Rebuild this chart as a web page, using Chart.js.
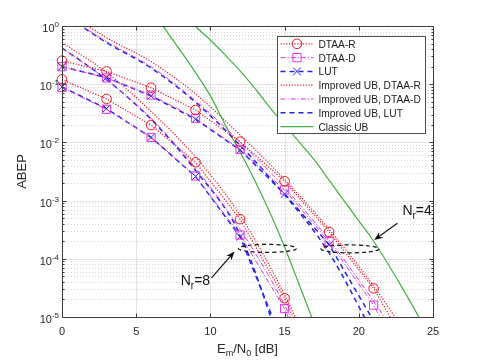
<!DOCTYPE html>
<html>
<head>
<meta charset="utf-8">
<script src="https://cdn.jsdelivr.net/npm/chart.js@4.4.1/dist/chart.umd.min.js"></script>
<style>
    html, body { margin: 0; padding: 0; background: #fff; }
</style>
</head>
<body>
<canvas id="ber" width="480" height="360"></canvas>
<script>
// SNR grids [dB]
const snrSim = [0, 3, 6, 9, 12, 15, 18, 21, 24];
const snrBound = [0, 3, 6, 9, 12, 15, 18, 21, 24];
const snrClassic8 = [6, 7, 8, 9, 10, 11, 12, 13, 14, 15, 16, 17];
const snrClassic4 = [8, 9, 10, 11, 12, 13, 14, 15, 16, 17, 18, 19, 20, 21, 22, 23, 24, 25];

// Nr = 4, simulation
const simR4 = [0.253, 0.166, 0.087, 0.036, 0.0103, 2.15e-3, 2.9e-4, 3.1e-5, 1.5e-6];
const simD4 = [0.2, 0.128, 0.065, 0.026, 7.6e-3, 1.52e-3, 1.97e-4, 1.6e-5, 6e-7];
const simL4 = [0.2, 0.13, 0.063, 0.025, 7.4e-3, 1.3e-3, 1.75e-4, 8.5e-6, 3e-7];
// Nr = 4, improved union bound
const ubR4 = [2.0, 0.63, 0.245, 0.068, 0.0135, 2.3e-3, 3.2e-4, 3.4e-5, 2.5e-6];
const ubD4 = [1.66, 0.54, 0.2, 0.052, 0.0102, 1.66e-3, 2.1e-4, 1.86e-5, 1.3e-6];
const ubL4 = [1.66, 0.52, 0.19, 0.049, 8.9e-3, 1.26e-3, 1.26e-4, 5e-6];

// Nr = 8, simulation
const simR8 = [0.121, 0.0557, 0.0199, 4.55e-3, 4.8e-4, 2.1e-5, 4e-7];
const simD8 = [0.088, 0.037, 0.0122, 2.65e-3, 2.56e-4, 1.4e-5, 2e-7];
const simL8 = [0.09, 0.038, 0.0122, 2.6e-3, 2.4e-4, 3e-6];
// Nr = 8, improved union bound
const ubR8 = [0.52, 0.16, 0.034, 5.6e-3, 5.6e-4, 2.4e-5, 5e-7];
const ubD8 = [0.42, 0.12, 0.026, 3.6e-3, 3.2e-4, 1.6e-5, 3e-7];
const ubL8 = [0.42, 0.12, 0.025, 3.3e-3, 2.6e-4, 2e-6];

// classic union bound
const classic8 = [1.9, 0.85, 0.37, 0.158, 0.063, 0.02, 6.8e-3, 2.2e-3, 6.3e-4, 1.6e-4, 3.5e-5, 7.6e-6];
const classic4 = [1.78, 0.98, 0.575, 0.316, 0.17, 0.085, 0.04, 0.02, 0.01, 5e-3, 2.24e-3, 1e-3, 4.5e-4, 2e-4, 7.9e-5, 2.95e-5, 1.05e-5, 3.5e-6];

// axes
const xTicks = [0, 5, 10, 15, 20, 25];
const yExponents = [-5, -4, -3, -2, -1, 0];

const legendLabels = ['DTAA-R', 'DTAA-D', 'LUT', 'Improved UB, DTAA-R', 'Improved UB, DTAA-D', 'Improved UB, LUT', 'Classic UB'];

const FONT = '"Liberation Sans", Arial, Helvetica, sans-serif';
const RED = '#f01525';
const MAG = '#e236ea';
const BLUE = '#2424e6';
const GREEN = '#45b045';

const DOT = [1.2, 1.6];
const DASHDOT = [5, 2, 1.2, 2];
const DASH = [5, 4];

function pts(xs, ys) {
    return ys.map((v, i) => ({ x: xs[i], y: v }));
}

function simSet(data, color, dash, width, pointStyle, radius) {
    return {
        data, borderColor: color, borderWidth: width, borderDash: dash, tension: 0,
        pointStyle, pointRadius: radius, pointHoverRadius: radius, pointBorderWidth: 1,
        pointBorderColor: color, pointBackgroundColor: 'rgba(0,0,0,0)',
        clip: { left: 10, top: 0, right: 0, bottom: 0 },
    };
}

function boundSet(data, color, dash, width) {
    return {
        data, borderColor: color, borderWidth: width, borderDash: dash,
        pointRadius: 0, pointHoverRadius: 0, cubicInterpolationMode: 'monotone',
        capBezierPoints: false, clip: 0,
    };
}

const datasets = [
    simSet(pts(snrSim, simR4), RED, DOT, 1.2, 'circle', 4.8),
    simSet(pts(snrSim, simD4), MAG, DASHDOT, 1, 'rect', 5.8),
    simSet(pts(snrSim, simL4), BLUE, DASH, 1.5, 'crossRot', 5.5),
    boundSet(pts(snrBound, ubR4), RED, DOT, 1.2),
    boundSet(pts(snrBound, ubD4), MAG, DASHDOT, 1),
    boundSet(pts(snrBound, ubL4), BLUE, DASH, 1.5),
    boundSet(pts(snrClassic4, classic4), GREEN, [], 1.2),
    simSet(pts(snrSim, simR8), RED, DOT, 1.2, 'circle', 4.8),
    simSet(pts(snrSim, simD8), MAG, DASHDOT, 1, 'rect', 5.8),
    simSet(pts(snrSim, simL8), BLUE, DASH, 1.5, 'crossRot', 5.5),
    boundSet(pts(snrBound, ubR8), RED, DOT, 1.2),
    boundSet(pts(snrBound, ubD8), MAG, DASHDOT, 1),
    boundSet(pts(snrBound, ubL8), BLUE, DASH, 1.5),
    boundSet(pts(snrClassic8, classic8), GREEN, [], 1.2),
];

// annotations, in data coordinates
const notes = [
    { centre: [13.84, 1.51e-4], from: [10.08, 4.7e-5], to: [11.63, 1.34e-4], text: [8.0, 3.55e-5], label: '8' },
    { centre: [19.4, 1.48e-4], from: [22.6, 4.07e-4], to: [21.03, 2.1e-4], text: [22.94, 5.66e-4], label: '4' },
];

function line(ctx, x1, y1, x2, y2) {
    ctx.beginPath();
    ctx.moveTo(x1, y1);
    ctx.lineTo(x2, y2);
    ctx.stroke();
}

// parts: [text, size, dy]
function rich(ctx, parts, x, y, align) {
    let w = 0;
    for (const [t, s] of parts) {
        ctx.font = s + 'px ' + FONT;
        w += ctx.measureText(t).width;
    }
    let cx = align === 'right' ? x - w : align === 'center' ? x - w / 2 : x;
    for (const [t, s, dy] of parts) {
        ctx.font = s + 'px ' + FONT;
        ctx.fillText(t, cx, y + dy);
        cx += ctx.measureText(t).width;
    }
}

const frame = {
    id: 'frame',
    beforeDatasetsDraw(chart) {
        const { ctx, chartArea: a, scales: { x, y } } = chart;
        ctx.save();
        ctx.lineWidth = 1;
        ctx.strokeStyle = '#d6d6d6';
        ctx.setLineDash([1, 2]);
        for (const e of yExponents.slice(0, -1)) {
            for (let m = 2; m <= 9; m++) {
                const py = Math.round(y.getPixelForValue(m * Math.pow(10, e))) + 0.5;
                line(ctx, a.left, py, a.right, py);
            }
        }
        ctx.setLineDash([]);
        ctx.strokeStyle = '#e4e4e4';
        for (const e of yExponents) {
            const py = Math.round(y.getPixelForValue(Math.pow(10, e))) + 0.5;
            line(ctx, a.left, py, a.right, py);
        }
        for (const v of xTicks) {
            const px = Math.round(x.getPixelForValue(v)) + 0.5;
            line(ctx, px, a.top, px, a.bottom);
        }
        ctx.restore();
    },
    afterDatasetsDraw(chart) {
        const { ctx, chartArea: a, scales: { x, y } } = chart;
        ctx.save();
        const L = Math.round(a.left) + 0.5, R = Math.round(a.right) + 0.5;
        const T = Math.round(a.top) + 0.5, B = Math.round(a.bottom) + 0.5;

        // box and ticks
        ctx.strokeStyle = '#3a3a3a';
        ctx.lineWidth = 1;
        ctx.strokeRect(L, T, R - L, B - T);
        for (const e of yExponents) {
            const py = Math.round(y.getPixelForValue(Math.pow(10, e))) + 0.5;
            line(ctx, L, py, L + 4, py);
            line(ctx, R, py, R - 4, py);
            if (e < 0) {
                for (let m = 2; m <= 9; m++) {
                    const q = Math.round(y.getPixelForValue(m * Math.pow(10, e))) + 0.5;
                    line(ctx, L, q, L + 2, q);
                    line(ctx, R, q, R - 2, q);
                }
            }
        }
        for (const v of xTicks) {
            const px = Math.round(x.getPixelForValue(v)) + 0.5;
            line(ctx, px, B, px, B - 4);
            line(ctx, px, T, px, T + 4);
        }

        // tick labels
        ctx.fillStyle = '#262626';
        ctx.textBaseline = 'alphabetic';
        for (const e of yExponents) {
            const py = y.getPixelForValue(Math.pow(10, e));
            rich(ctx, [['10', 11, 0], [String(e), 8, -5]], a.left - 3, py + 6, 'right');
        }
        ctx.font = '11px ' + FONT;
        ctx.textAlign = 'center';
        for (const v of xTicks) {
            ctx.fillText(String(v), x.getPixelForValue(v), a.bottom + 18);
        }
        ctx.textAlign = 'left';

        // axis titles
        rich(ctx, [['E', 13, 0], ['m', 9, 3], ['/N', 13, 0], ['0', 9, 3], [' [dB]', 13, 0]],
            (a.left + a.right) / 2, a.bottom + 36, 'center');
        ctx.save();
        ctx.translate(a.left - 36, (a.top + a.bottom) / 2);
        ctx.rotate(-Math.PI / 2);
        ctx.font = '13px ' + FONT;
        ctx.textAlign = 'center';
        ctx.fillText('ABEP', 0, 0);
        ctx.restore();

        // annotations
        ctx.strokeStyle = '#111';
        ctx.fillStyle = '#111';
        for (const n of notes) {
            const cx = x.getPixelForValue(n.centre[0]), cy = y.getPixelForValue(n.centre[1]);
            ctx.setLineDash([4, 3]);
            ctx.lineWidth = 1.2;
            ctx.beginPath();
            ctx.ellipse(cx, cy, 29, 4, 0, 0, Math.PI * 2);
            ctx.stroke();
            ctx.setLineDash([]);
            const x1 = x.getPixelForValue(n.from[0]), y1 = y.getPixelForValue(n.from[1]);
            const x2 = x.getPixelForValue(n.to[0]), y2 = y.getPixelForValue(n.to[1]);
            const ang = Math.atan2(y2 - y1, x2 - x1);
            ctx.lineWidth = 1.2;
            line(ctx, x1, y1, x2 - 6 * Math.cos(ang), y2 - 6 * Math.sin(ang));
            ctx.beginPath();
            ctx.moveTo(x2, y2);
            ctx.lineTo(x2 - 9 * Math.cos(ang) + 3.5 * Math.sin(ang), y2 - 9 * Math.sin(ang) - 3.5 * Math.cos(ang));
            ctx.lineTo(x2 - 6 * Math.cos(ang), y2 - 6 * Math.sin(ang));
            ctx.lineTo(x2 - 9 * Math.cos(ang) - 3.5 * Math.sin(ang), y2 - 9 * Math.sin(ang) + 3.5 * Math.cos(ang));
            ctx.closePath();
            ctx.fill();
            rich(ctx, [['N', 14, 0], ['r', 10, 4], ['=' + n.label, 14, 0]],
                x.getPixelForValue(n.text[0]), y.getPixelForValue(n.text[1]), 'left');
        }

        // legend
        const lw = 148, lh = 97;
        const lx = Math.round(a.right - 8 - lw) + 0.5, ly = Math.round(a.top + 10) + 0.5;
        ctx.fillStyle = '#fff';
        ctx.fillRect(lx, ly, lw, lh);
        ctx.strokeStyle = '#4a4a4a';
        ctx.lineWidth = 1;
        ctx.strokeRect(lx, ly, lw, lh);
        legendLabels.forEach((label, i) => {
            const ds = chart.data.datasets[i];
            const ry = ly + 7.3 + i * 13.8;
            ctx.save();
            ctx.strokeStyle = ds.borderColor;
            ctx.lineWidth = ds.borderWidth;
            ctx.setLineDash(ds.borderDash);
            line(ctx, lx + 3, ry, lx + 36, ry);
            ctx.setLineDash([]);
            if (ds.pointRadius > 0) {
                ctx.lineWidth = 1;
                ctx.fillStyle = 'rgba(0,0,0,0)';
                Chart.helpers.drawPoint(ctx, { pointStyle: ds.pointStyle, radius: ds.pointRadius, rotation: 0, borderWidth: 1 }, lx + 19.5, ry);
            }
            ctx.restore();
            ctx.fillStyle = '#1a1a1a';
            ctx.font = '10.2px ' + FONT;
            ctx.fillText(label, lx + 41, ry + 4);
        });
        ctx.restore();
    },
};

new Chart(document.getElementById('ber'), {
    type: 'line',
    data: { datasets },
    options: {
        responsive: false,
        animation: false,
        events: [],
        layout: { padding: { left: 62, top: 26, right: 47, bottom: 43 } },
        plugins: { legend: { display: false }, tooltip: { enabled: false } },
        scales: {
            x: { type: 'linear', min: 0, max: 25, display: false },
            y: { type: 'logarithmic', min: 1e-5, max: 1, display: false },
        },
    },
    plugins: [frame],
});
</script>
</body>
</html>
